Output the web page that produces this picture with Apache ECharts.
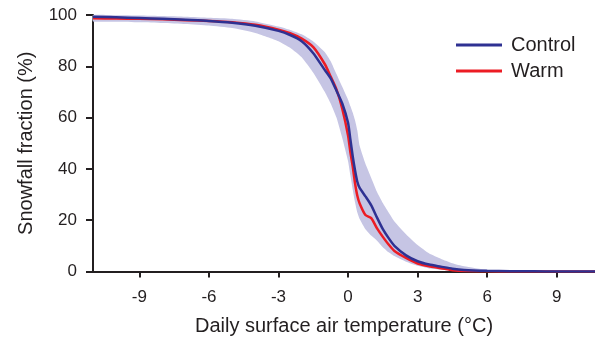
<!DOCTYPE html>
<html>
<head>
<meta charset="utf-8">
<script src="https://cdn.jsdelivr.net/npm/echarts@6/dist/echarts.min.js"></script>
<style>html,body{margin:0;padding:0;background:#fff}#c{width:595px;height:343px}</style>
</head>
<body>
<div id="c"></div>
<script>
// Temperature grid (°C)
var temps = [-11, -10, -9, -8, -7, -6, -5, -4, -3, -2.5, -2, -1.5, -1, -0.75, -0.5, -0.25, 0, 0.1, 0.2, 0.3, 0.4, 0.5, 0.75, 1, 1.25, 1.5, 1.75, 2, 2.5, 3, 3.5, 4, 4.5, 5, 6, 7, 8, 9, 10, 10.65];
// Control snowfall fraction (%)
var control = [99.3, 99.1, 98.8, 98.5, 98.1, 97.7, 97.0, 95.8, 93.8, 92.2, 89.8, 85.1, 78.5, 75.3, 70.5, 65.5, 58, 51.5, 45, 39.5, 35, 32.6, 29.3, 25.8, 21, 16.5, 13, 10, 6.3, 4, 2.7, 1.9, 1.1, 0.6, 0.25, 0.1, 0.05, 0.02, 0, 0];
// Warm snowfall fraction (%)
var warm = [98.7, 98.6, 98.5, 98.3, 98.0, 97.7, 97.2, 96.2, 94.3, 92.9, 90.8, 87.5, 80.8, 76, 71, 63.5, 53, 46.5, 41, 34.5, 29.5, 26.5, 22, 20.8, 16.8, 13.5, 10.5, 8, 5.3, 3.1, 2.0, 1.3, 0.5, 0.15, 0.05, 0, 0, 0, 0, 0];
// Spread band (%)
var bandLow = [97.5, 97.4, 97.2, 96.9, 96.5, 95.9, 94.9, 93.0, 89.8, 87.2, 83.5, 77.5, 70, 65.5, 60, 52, 43, 37.5, 32, 27, 23, 20.5, 16.5, 14, 12, 9.5, 7.5, 6, 3.8, 2.2, 1.2, 0.7, 0.3, 0.1, 0, 0, 0, 0, 0, 0];
var bandHigh = [100, 99.9, 99.8, 99.6, 99.3, 98.9, 98.5, 97.5, 95.5, 94.2, 92.5, 89.7, 85.5, 82, 77, 72, 67, 64.5, 62, 59, 55, 49, 42, 36.5, 31, 26.7, 23, 19.5, 14.5, 10.3, 7.0, 5, 3.2, 2.0, 0.6, 0.3, 0.1, 0.05, 0, 0];
var xTicks = [-9, -6, -3, 0, 3, 6, 9];
var yTicks = [0, 20, 40, 60, 80, 100];

function pairs(xs, ys) { return xs.map(function (x, i) { return [x, ys[i]]; }); }

var ink = '#231f20';
var font = 'Liberation Sans, Arial, Helvetica, sans-serif';
var chart = echarts.init(document.getElementById('c'), null, { renderer: 'canvas' });
chart.setOption({
  animation: false,
  grid: { left: 93, right: 0, top: 15, bottom: 71.5, containLabel: false },
  legend: {
    orient: 'vertical', left: 456, top: 35, padding: 0, itemWidth: 46, itemHeight: 3, itemGap: 6,
    icon: 'rect',
    textStyle: { fontFamily: font, fontSize: 20, color: ink, lineHeight: 20, padding: [0, 0, 0, 4] },
    data: ['Control', 'Warm']
  },
  xAxis: {
    type: 'value', min: -11, max: 10.65,
    name: 'Daily surface air temperature (°C)', nameLocation: 'middle', nameGap: 45,
    nameTextStyle: { fontFamily: font, fontSize: 20, color: ink },
    axisLine: { show: true, onZero: false, lineStyle: { color: ink, width: 2 } },
    axisTick: { show: true, length: 6, lineStyle: { color: ink, width: 2 }, customValues: xTicks },
    axisLabel: { fontFamily: font, fontSize: 17, color: ink, margin: 17, customValues: xTicks },
    splitLine: { show: false }
  },
  yAxis: {
    type: 'value', min: 0, max: 100, interval: 20,
    name: 'Snowfall fraction (%)', nameLocation: 'middle', nameGap: 57,
    nameTextStyle: { fontFamily: font, fontSize: 20, color: ink },
    axisLine: { show: true, onZero: false, lineStyle: { color: ink, width: 2 } },
    axisTick: { show: true, length: 7, lineStyle: { color: ink, width: 2 } },
    axisLabel: { fontFamily: font, fontSize: 17, color: ink, margin: 16, customValues: yTicks },
    splitLine: { show: false }
  },
  series: [
    {
      type: 'custom', name: 'band', silent: true, z: 1,
      data: [0],
      renderItem: function (params, api) {
        var pts = [];
        for (var i = 0; i < temps.length; i++) pts.push(api.coord([temps[i], bandHigh[i]]));
        for (var j = temps.length - 1; j >= 0; j--) pts.push(api.coord([temps[j], bandLow[j]]));
        return { type: 'polygon', shape: { points: pts, smooth: 0.15 }, style: { fill: '#c6c5e4' } };
      }
    },
    {
      type: 'line', name: 'Warm', data: pairs(temps, warm), symbol: 'none', smooth: 0.2, z: 3,
      lineStyle: { color: '#ec1c24', width: 2.5 }, itemStyle: { color: '#ec1c24' }
    },
    {
      type: 'line', name: 'Control', data: pairs(temps, control), symbol: 'none', smooth: 0.2, z: 4,
      lineStyle: { color: '#2e3192', width: 2.5 }, itemStyle: { color: '#2e3192' }
    }
  ]
});
</script>
</body>
</html>
